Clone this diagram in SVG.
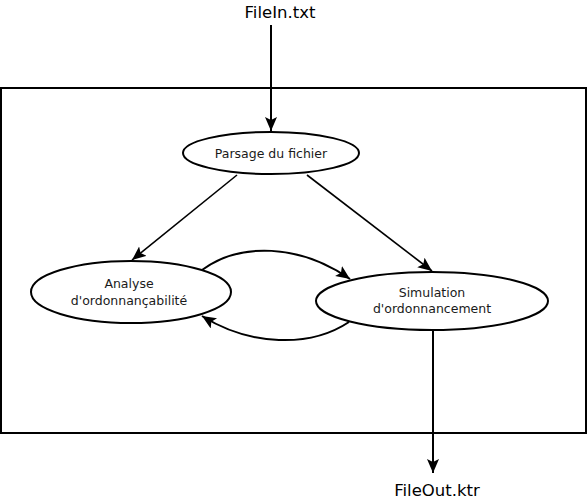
<svg xmlns="http://www.w3.org/2000/svg" width="588" height="502" viewBox="0 0 588 502">
<style>
.n{fill:#fff;stroke:#000;stroke-width:2}
.t{font-family:"DejaVu Sans",sans-serif;font-size:12.5px;fill:#1a1a1a;text-anchor:middle}
.big{font-family:"DejaVu Sans",sans-serif;font-size:16.5px;fill:#000;text-anchor:middle}
.c{fill:none;stroke:#000;stroke-width:2;marker-end:url(#ah)}
.c2{fill:none;stroke:#000;stroke-width:1.6;marker-end:url(#ah)}
</style>
<defs>
<marker id="ah" markerUnits="userSpaceOnUse" markerWidth="16" markerHeight="14" refX="14" refY="6" orient="auto">
<path d="M0,0 L14,6 L0,12 L3,6 z" fill="#000"/>
</marker>
</defs>
<rect x="1" y="88" width="585" height="345" fill="#fff" stroke="#000" stroke-width="2"/>
<g id="connectors">
<line class="c" x1="271" y1="25" x2="271" y2="131"/>
<line class="c2" x1="237" y1="175" x2="132" y2="260"/>
<line class="c2" x1="307" y1="175" x2="432" y2="271"/>
<path class="c" d="M202,270 C240,242 300,244 350,279"/>
<path class="c" d="M349,322 C310,348 250,346 202,316"/>
<line class="c" x1="433" y1="330" x2="433" y2="473"/>
</g>
<g id="filein"><text class="big" x="280" y="18">FileIn.txt</text></g>
<g id="parsage">
<ellipse class="n" cx="271" cy="153" rx="88" ry="21"/>
<text class="t" x="271" y="158">Parsage du fichier</text>
</g>
<g id="analyse">
<ellipse class="n" cx="131" cy="292" rx="100" ry="31"/>
<text class="t" x="129" y="288">Analyse</text>
<text class="t" x="129" y="305">d'ordonnançabilité</text>
</g>
<g id="simulation">
<ellipse class="n" cx="432" cy="301" rx="116" ry="29"/>
<text class="t" x="432" y="297">Simulation</text>
<text class="t" x="432" y="313">d'ordonnancement</text>
</g>
<g id="fileout"><text class="big" x="437" y="496">FileOut.ktr</text></g>
</svg>
